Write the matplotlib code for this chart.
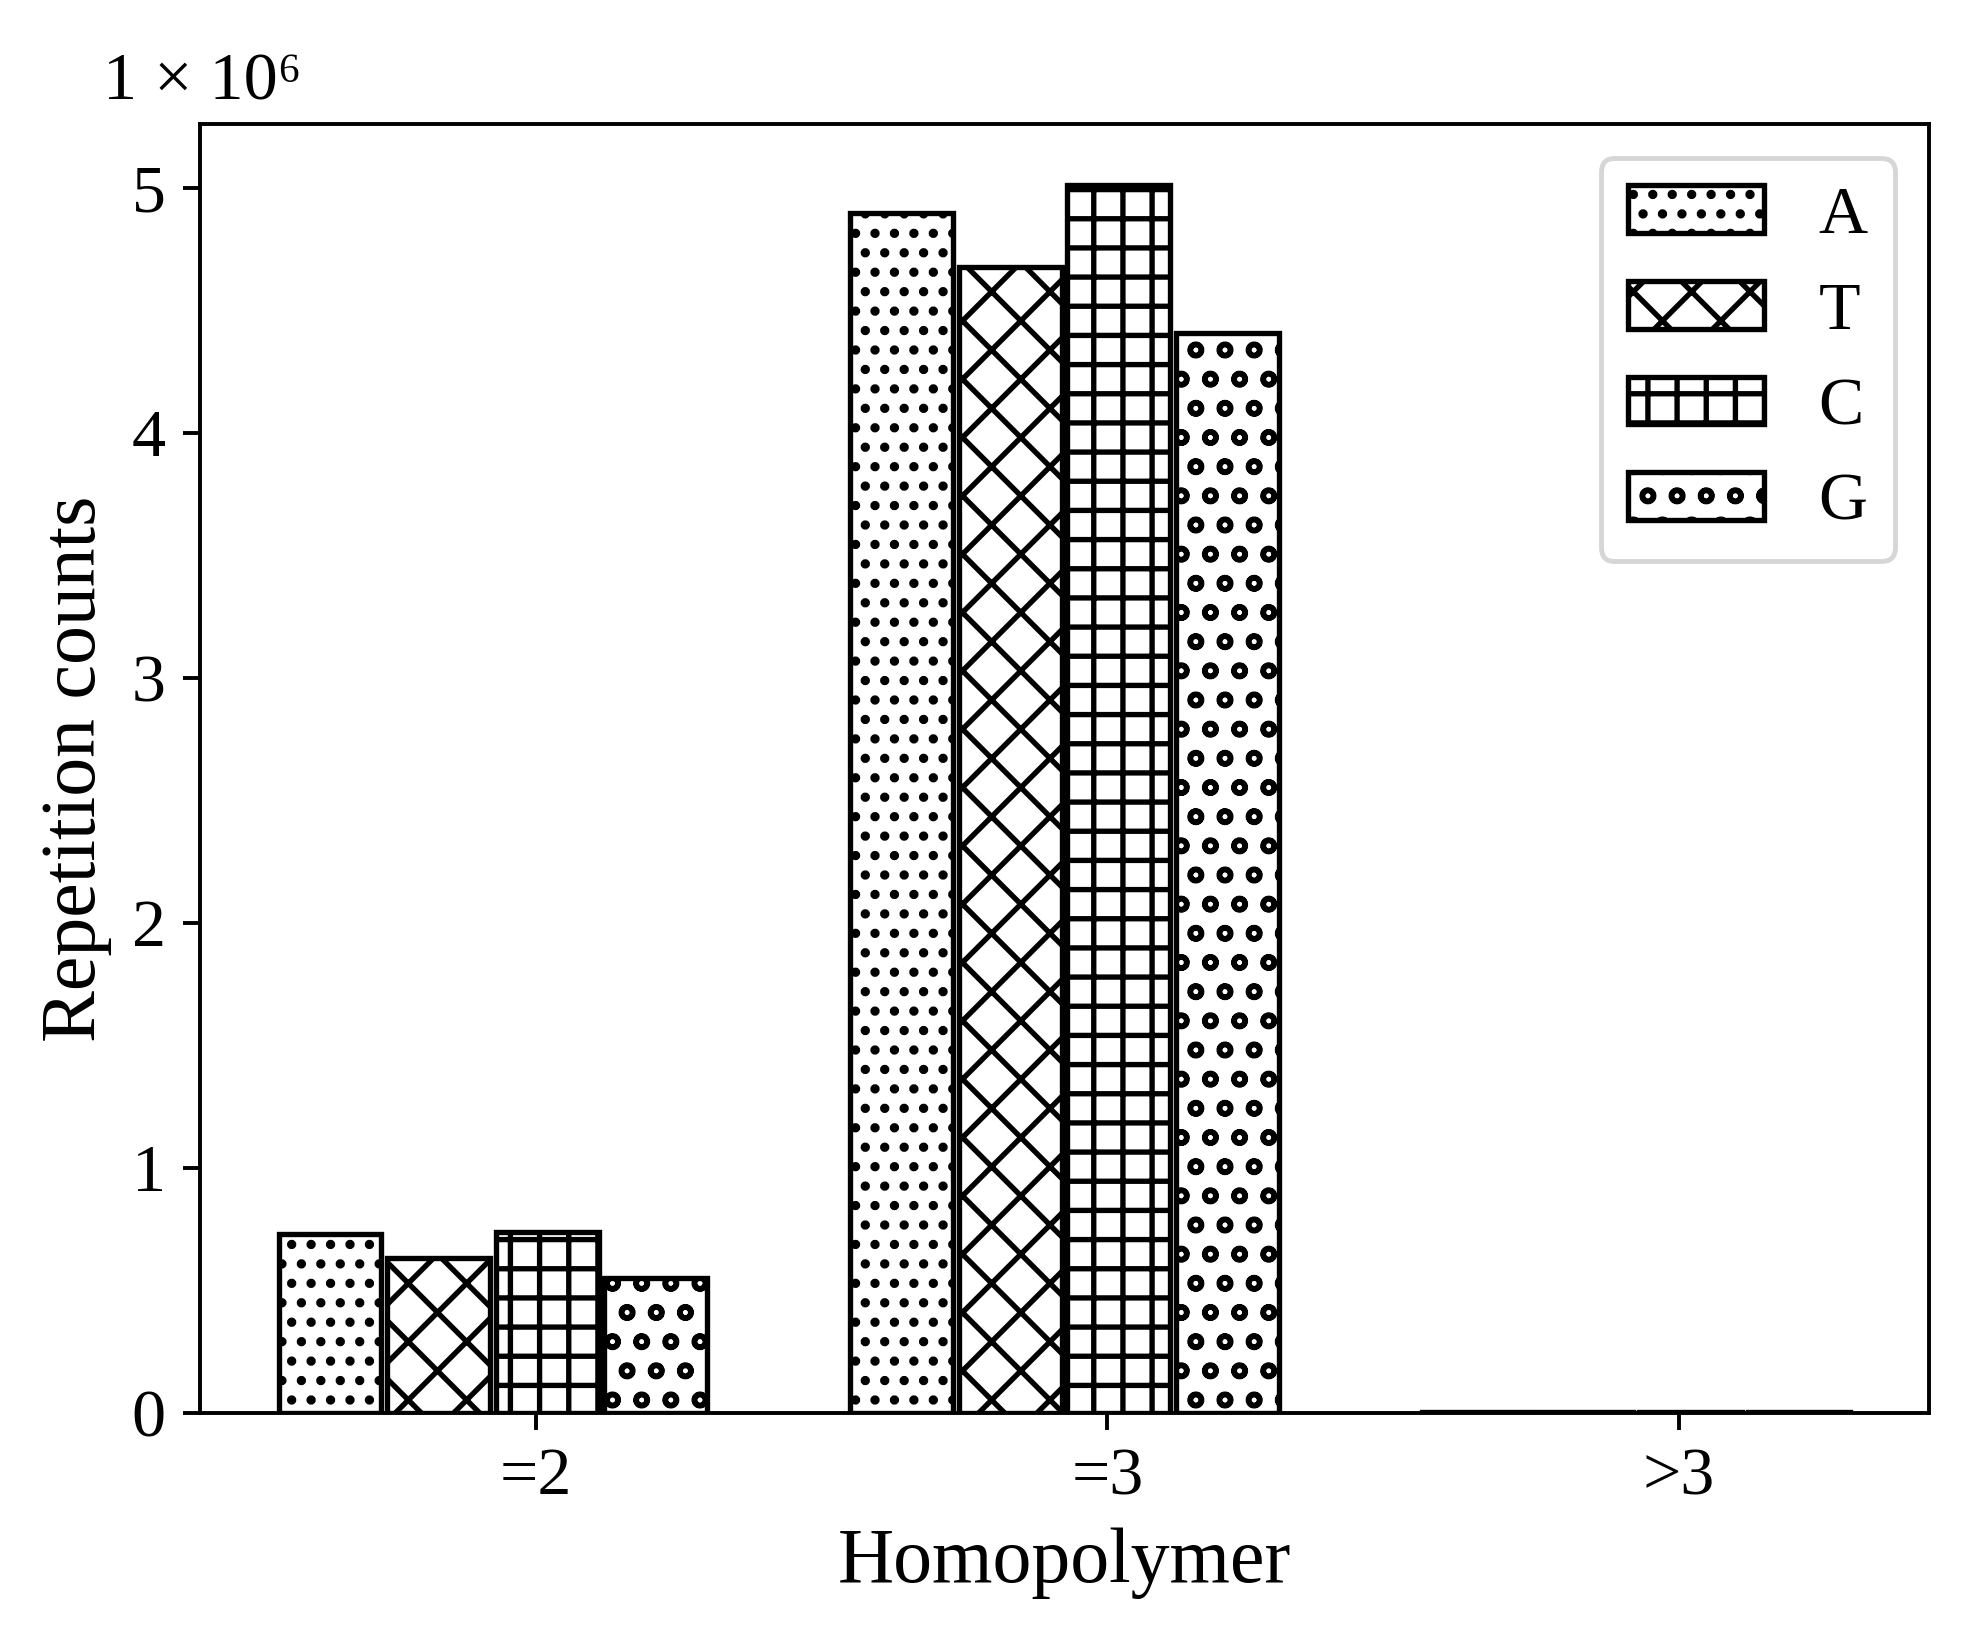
import numpy as np
import matplotlib
matplotlib.use("Agg")
import matplotlib.pyplot as plt
from matplotlib.ticker import FuncFormatter

plt.rcParams['font.family'] = ['Liberation Serif', 'DejaVu Serif']
plt.rcParams['hatch.linewidth'] = 1.1

# Données
categories = ['=2', '=3', '>3']
bases = ['A', 'T', 'C', 'G']
counts_A = [730000, 4897000, 4000]
counts_T = [634000, 4676000, 3500]
counts_C = [738000, 5009000, 4200]
counts_G = [552000, 4405000, 3000]
hatches = ['...', 'xx', '++', 'oo']

series = [counts_A, counts_T, counts_C, counts_G]

dpi = 350
fig = plt.figure(figsize=(1973 / dpi, 1644 / dpi), dpi=dpi)
ax = fig.add_axes([200 / 1973, 1 - 1413 / 1644, 1729 / 1973, 1289 / 1644])

x = np.arange(len(categories))
pitch = 0.19
width = 0.18
for i, (vals, base, h) in enumerate(zip(series, bases, hatches)):
    ax.bar(x - 0.36 + i * pitch, vals, width, label=base, color='white',
           edgecolor='black', linewidth=1.1, hatch=h)

ax.set_xticks(x)
ax.set_xticklabels(categories, fontsize=14)
ax.yaxis.set_major_formatter(FuncFormatter(lambda v, p: f'{v / 1e6:g}'))
ax.tick_params(axis='y', labelsize=14)
ax.set_xlabel('Homopolymer', fontsize=16)
ax.set_ylabel('Repetition counts', fontsize=16)
ax.text(-0.056, 1.019, '1 × 10⁶', transform=ax.transAxes, fontsize=14,
        ha='left', va='baseline')

ax.legend(loc='upper right', fontsize=14)

fig.savefig('out.png', dpi=dpi)
